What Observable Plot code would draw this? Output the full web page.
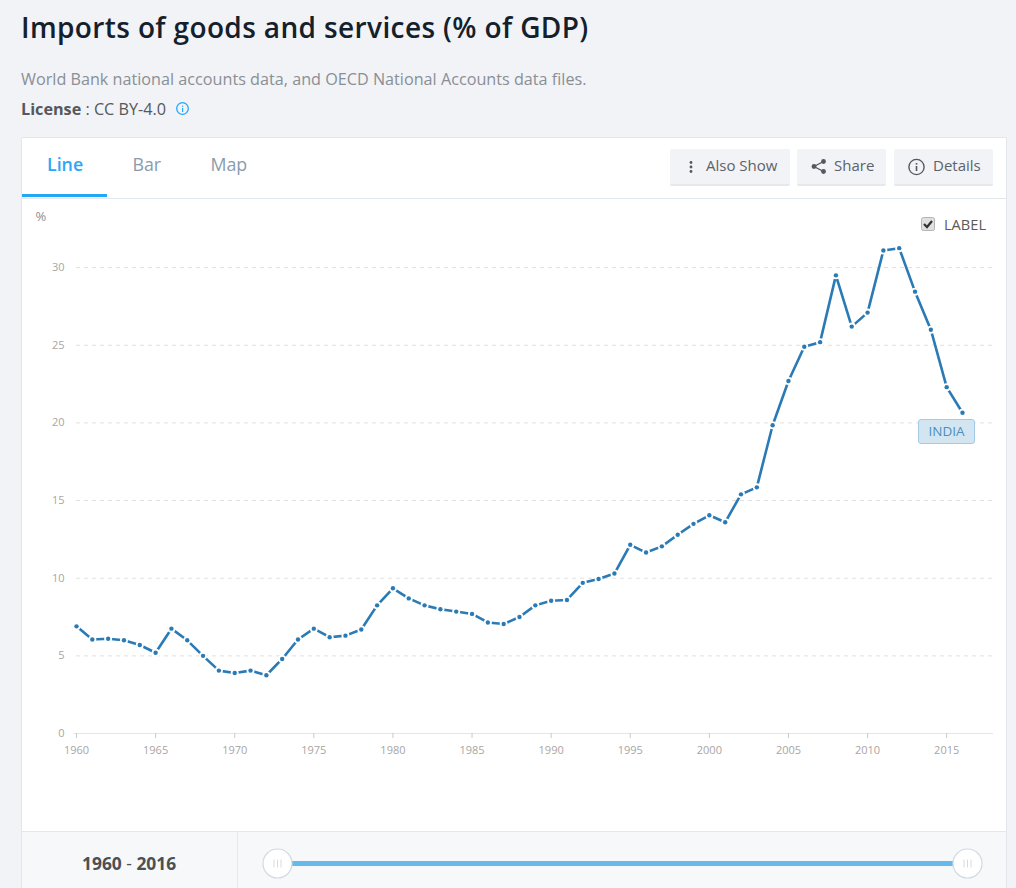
<!DOCTYPE html>
<html><head><meta charset="utf-8">
<script src="https://cdn.jsdelivr.net/npm/d3@7"></script>
<script src="https://cdn.jsdelivr.net/npm/@observablehq/plot@0.6"></script>
<style>
html,body{margin:0;padding:0;width:1016px;height:888px;overflow:hidden;background:#f1f3f7;font-family:"Open Sans",sans-serif;position:relative}
.a{position:absolute;white-space:nowrap}
#card{left:21px;top:137px;width:986px;height:751px;background:#fff;border:1px solid #e3e6ea;border-bottom:none;box-sizing:border-box;border-radius:2px 2px 0 0}
.tab{font-size:17.8px;color:#8a9cac;top:152px}
.btn{top:149px;height:37px;background:#f1f3f7;border-bottom:2px solid #e6e8ec;box-sizing:border-box;border-radius:2px;font-size:15px;color:#5d6268;line-height:33px}
#chart{left:22px;top:199px}
#chart svg{display:block;background:transparent}
</style></head><body>
<div class="a" style="left:21px;top:6px;font-size:28px;font-weight:600;letter-spacing:0.38px;color:#14202b;line-height:42px" id="title">Imports of goods and services (% of GDP)</div>
<div class="a" style="left:21px;top:68px;font-size:16.2px;color:#8a8f95;line-height:22px">World Bank national accounts data, and OECD National Accounts data files.</div>
<div class="a" style="left:21px;top:98px;font-size:16.2px;color:#55585c;line-height:22px"><b style="font-weight:700">License</b> : CC BY-4.0</div>
<svg class="a" style="left:175px;top:101px" width="15" height="15"><circle cx="7.5" cy="7.5" r="5.8" fill="none" stroke="#2aa5f5" stroke-width="1.3"/><rect x="7" y="7" width="1.2" height="4" fill="#2aa5f5"/><rect x="7" y="4.6" width="1.2" height="1.2" fill="#2aa5f5"/></svg>
<div class="a" id="card"></div>
<div class="a" style="left:22px;top:198px;width:984px;height:1px;background:#e3e8ec"></div>
<div class="a" style="left:22px;top:194px;width:85px;height:3px;background:#23a6f4"></div>
<div class="a tab" style="left:47px;color:#2ea6f5;font-weight:600">Line</div>
<div class="a tab" style="left:132.5px">Bar</div>
<div class="a tab" style="left:210.5px">Map</div>
<div class="a btn" style="left:670px;width:120px;padding-left:36px">Also Show</div>
<svg class="a" style="left:686px;top:160px" width="10" height="14"><circle cx="5" cy="2.5" r="1.4" fill="#55585c"/><circle cx="5" cy="7" r="1.4" fill="#55585c"/><circle cx="5" cy="11.5" r="1.4" fill="#55585c"/></svg>
<div class="a btn" style="left:797px;width:89px;padding-left:37px">Share</div>
<svg class="a" style="left:810px;top:158px" width="18" height="17"><path d="M13.5 3.5L4 8.5L13.5 13.5" fill="none" stroke="#55585c" stroke-width="1.3"/><circle cx="13.5" cy="3.5" r="2.4" fill="#55585c"/><circle cx="4" cy="8.5" r="2.4" fill="#55585c"/><circle cx="13.5" cy="13.5" r="2.4" fill="#55585c"/></svg>
<div class="a btn" style="left:894px;width:99px;padding-left:39px">Details</div>
<svg class="a" style="left:907px;top:158px" width="19" height="18"><circle cx="9.5" cy="9" r="7.6" fill="none" stroke="#55585c" stroke-width="1.4"/><rect x="8.7" y="8" width="1.6" height="5" fill="#55585c"/><rect x="8.7" y="5" width="1.6" height="1.6" fill="#55585c"/></svg>
<div class="a" style="left:35.5px;top:208px;font-size:13px;color:#8a8f95;line-height:16px">%</div>
<svg class="a" style="left:921px;top:217px" width="14" height="14"><rect x="0.5" y="0.5" width="13" height="13" rx="2" fill="#e0e0e0" stroke="#b5b5b5"/><path d="M3 7l3 3 5-6" fill="none" stroke="#333" stroke-width="2.2"/></svg>
<div class="a" style="left:944px;top:215px;font-size:14.6px;color:#5d5a58;line-height:19px">LABEL</div>
<div class="a" id="chart"></div>
<div class="a" style="left:918px;top:419px;width:57px;height:25px;box-sizing:border-box;background:#d3e5f1;border:1px solid #a3cbe6;border-radius:3px;color:#4d8fc0;font-size:13.5px;line-height:23px;text-align:center">INDIA</div>
<div class="a" style="left:22px;top:831px;width:984px;height:57px;background:#f6f8fa;border-top:1px solid #e3e8ec;box-sizing:border-box"></div>
<div class="a" style="left:237px;top:832px;width:1px;height:56px;background:#e3e8ec"></div>
<div class="a" style="left:82px;top:851px;font-size:17.4px;font-weight:700;color:#4c5054;line-height:24px">1960 <span style="font-weight:400">-</span> 2016</div>
<div class="a" style="left:278px;top:861px;width:690px;height:5px;background:#66b8ed"></div>
<svg class="a" style="left:262px;top:848px" width="32" height="32"><circle cx="15.5" cy="15.5" r="14.5" fill="#fff" stroke="#d3dae0" stroke-width="1.2"/><path d="M12 11.5v8M15.5 11.5v8M19 11.5v8" stroke="#d8dbde"/></svg>
<svg class="a" style="left:952px;top:848px" width="32" height="32"><circle cx="15.5" cy="15.5" r="14.5" fill="#fff" stroke="#d3dae0" stroke-width="1.2"/><path d="M12 11.5v8M15.5 11.5v8M19 11.5v8" stroke="#d8dbde"/></svg>
<script>
const years = d3.range(1960, 2017);
const imports = [6.9,6.05,6.1,6.0,5.7,5.2,6.75,6.0,5.0,4.05,3.9,4.05,3.75,4.8,6.05,6.75,6.2,6.3,6.7,8.25,9.35,8.7,8.25,8.0,7.85,7.7,7.15,7.05,7.5,8.25,8.55,8.6,9.7,9.95,10.3,12.15,11.65,12.05,12.8,13.5,14.05,13.6,15.4,15.85,19.85,22.7,24.9,25.2,29.5,26.2,27.1,31.1,31.25,28.45,26.0,22.3,20.65];
const yTicks = [0,5,10,15,20,25,30];
const xTicks = [1960,1965,1970,1975,1980,1985,1990,1995,2000,2005,2010,2015];
const rows = years.map((year,i)=>({year,value:imports[i]}));
const tickColor = "#a9a5a2";
const plot = Plot.plot({
  width: 984, height: 630,
  marginLeft: 54, marginRight: 13, marginTop: 10, marginBottom: 96,
  style: {background:"transparent", fontFamily:'"Open Sans",sans-serif', fontSize:"11px"},
  x: {domain:[1960,2017.96], label:null},
  y: {domain:[0,33.74], label:null},
  marks: [
    Plot.ruleY(yTicks.filter(d=>d>0), {stroke:"#e0e0e0", strokeDasharray:"4,4", strokeWidth:1}),
    Plot.ruleY([0], {stroke:"#e3e6e8", strokeWidth:1, x1:1959.85, x2:2017.96}),
    Plot.axisX({ticks:xTicks, tickFormat:d=>String(d), tickSize:5, tickPadding:8, stroke:"#c9c9c9", fill:tickColor, label:null}),
    Plot.axisY({ticks:yTicks, tickSize:0, tickPadding:12, fill:tickColor, label:null}),
    Plot.line(rows,{x:"year",y:"value",stroke:"#2a7ab5",strokeWidth:2.6}),
    Plot.dot(rows,{x:"year",y:"value",r:4,fill:"#fff",stroke:"none"}),
    Plot.dot(rows,{x:"year",y:"value",r:2.2,fill:"#2a7ab5",stroke:"none"})
  ]
});
document.getElementById("chart").appendChild(plot);
</script>
</body></html>
